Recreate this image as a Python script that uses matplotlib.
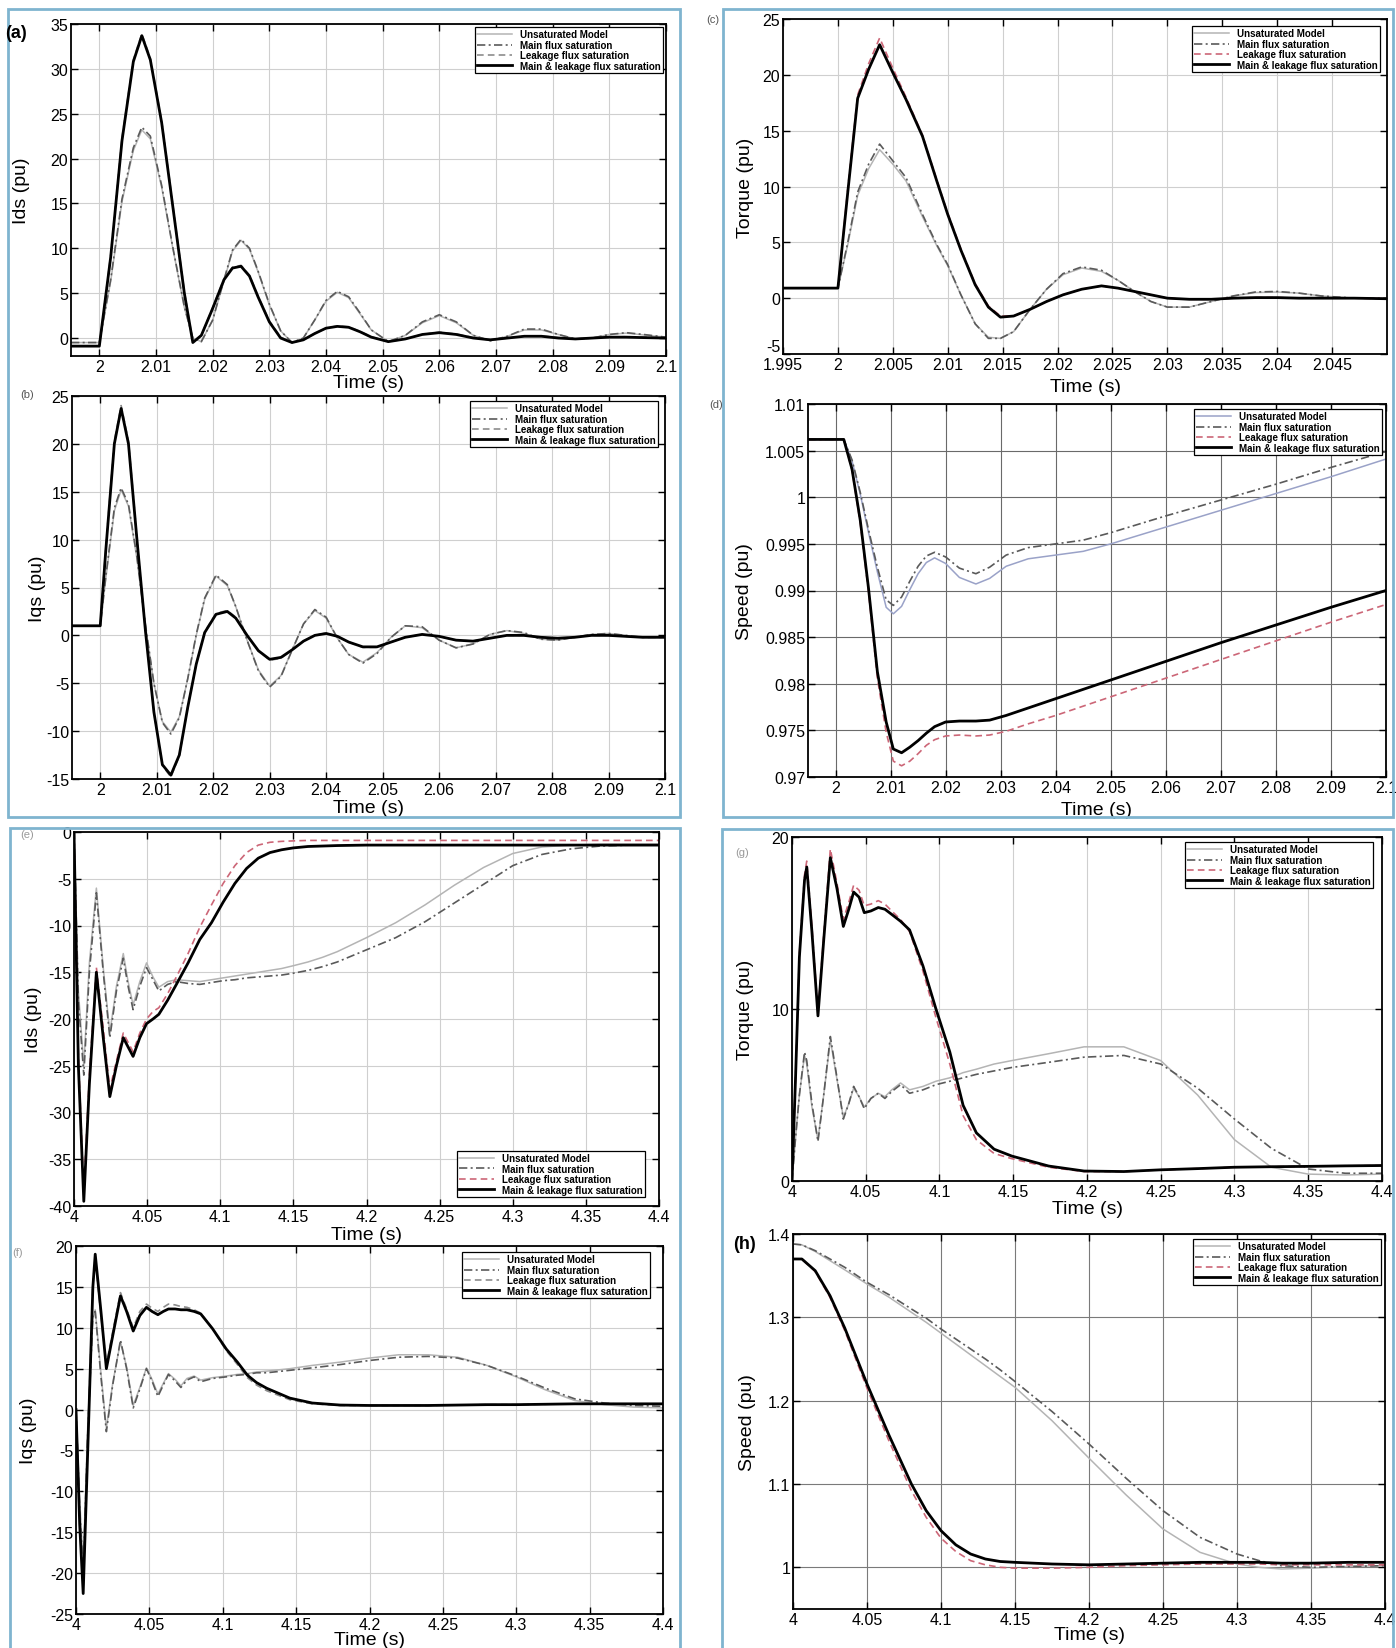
import numpy as np
import matplotlib
matplotlib.use("Agg")
import matplotlib.pyplot as plt
from matplotlib.patches import Rectangle

plt.rcParams['font.family'] = ['Liberation Sans', 'DejaVu Sans']

# ---------------- data ----------------
series_names = ["Unsaturated Model", "Main flux saturation",
                "Leakage flux saturation", "Main & leakage flux saturation"]

# (a) Ids, fault at t = 2 s
t_a = [1.995, 2.0, 2.002, 2.004, 2.006, 2.0075, 2.009, 2.011, 2.013, 2.015,
       2.0165, 2.018, 2.020, 2.022, 2.0235, 2.025, 2.0265, 2.028, 2.030, 2.032,
       2.034, 2.036, 2.038, 2.040, 2.042, 2.044, 2.046, 2.048, 2.051, 2.054,
       2.057, 2.060, 2.063, 2.066, 2.069, 2.072, 2.075, 2.078, 2.081, 2.084,
       2.087, 2.090, 2.093, 2.096, 2.1]
unsat_a = [-0.5, -0.5, 6.3, 15.2, 20.9, 23.2, 22.2, 16.8, 9.9, 3.4,
           0.0, -0.4, 2.0, 6.4, 9.7, 10.9, 9.9, 7.4, 3.7, 0.8,
           -0.5, 0.0, 2.0, 4.1, 5.1, 4.5, 2.7, 0.9, -0.4, 0.3,
           1.7, 2.5, 1.7, 0.3, -0.3, 0.2, 0.9, 0.9, 0.4, -0.1,
           0.0, 0.4, 0.55, 0.35, 0.1]
main_a = [-0.5, -0.5, 6.5, 15.5, 21.2, 23.5, 22.5, 17, 10, 3.5,
          0.0, -0.4, 2.0, 6.5, 9.8, 11.0, 10.0, 7.5, 3.8, 0.8,
          -0.5, 0.0, 2.0, 4.2, 5.2, 4.6, 2.8, 0.9, -0.4, 0.3,
          1.8, 2.6, 1.8, 0.3, -0.3, 0.2, 1.0, 1.0, 0.4, -0.1,
          0.0, 0.4, 0.6, 0.4, 0.1]
leak_a = [-0.9, -0.9, 9.2, 22.3, 31.0, 33.9, 31.2, 24.2, 14.7, 5.2,
          -0.4, 0.3, 3.4, 6.6, 7.9, 8.1, 7.0, 4.7, 1.9, 0.1,
          -0.5, -0.2, 0.5, 1.1, 1.35, 1.25, 0.75, 0.15, -0.4, -0.1,
          0.4, 0.65, 0.45, 0.05, -0.2, 0.0, 0.2, 0.25, 0.05, -0.1,
          0.0, 0.1, 0.15, 0.1, 0.05]
both_a = [-0.9, -0.9, 9, 22, 30.8, 33.7, 31, 24, 14.5, 5,
          -0.5, 0.3, 3.3, 6.5, 7.8, 8.0, 6.9, 4.6, 1.8, 0.0,
          -0.5, -0.2, 0.5, 1.1, 1.3, 1.2, 0.7, 0.1, -0.4, -0.1,
          0.4, 0.6, 0.4, 0.0, -0.2, 0.0, 0.2, 0.2, 0.0, -0.1,
          0.0, 0.1, 0.1, 0.05, 0.0]

# (b) Iqs, fault at t = 2 s
t_b = [1.995, 2.0, 2.001, 2.0025, 2.0037, 2.005, 2.0065, 2.008, 2.0095, 2.011,
       2.0125, 2.014, 2.0155, 2.017, 2.0185, 2.0205, 2.0225, 2.024, 2.026, 2.028,
       2.030, 2.032, 2.034, 2.036, 2.038, 2.040, 2.042, 2.044, 2.0465, 2.049,
       2.0515, 2.054, 2.057, 2.060, 2.063, 2.066, 2.069, 2.072, 2.075, 2.078,
       2.081, 2.084, 2.087, 2.090, 2.093, 2.096, 2.1]
unsat_b = [1.0, 1.0, 6, 13, 15.2, 13.5, 8, 1.0, -5, -9,
           -10.1, -8.5, -4.5, 0.0, 3.8, 6.2, 5.2, 3.0, -0.5, -3.6,
           -5.3, -4.2, -1.5, 1.2, 2.6, 1.8, -0.3, -2.0, -2.8, -1.8,
           -0.2, 1.0, 0.8, -0.5, -1.3, -0.9, 0.1, 0.5, 0.2, -0.4,
           -0.5, -0.2, 0.1, 0.2, 0.0, -0.2, -0.2]
main_b = [1.0, 1.0, 6.2, 13.3, 15.4, 13.7, 8.2, 1.1, -5.0, -9.1,
          -10.3, -8.6, -4.5, 0.1, 3.9, 6.3, 5.3, 3.0, -0.5, -3.7,
          -5.4, -4.3, -1.5, 1.2, 2.7, 1.9, -0.3, -2.0, -2.9, -1.9,
          -0.2, 1.0, 0.9, -0.5, -1.3, -0.9, 0.1, 0.5, 0.3, -0.4,
          -0.5, -0.2, 0.1, 0.2, 0.0, -0.2, -0.2]
leak_b = [1.0, 1.0, 9.3, 20.3, 24.0, 20.3, 10.2, 0.6, -8.0, -13.6,
          -14.8, -12.6, -7.5, -3.0, 0.4, 2.3, 2.6, 1.9, 0.0, -1.6,
          -2.6, -2.4, -1.5, -0.6, 0.0, 0.25, -0.1, -0.7, -1.25, -1.25,
          -0.7, -0.2, 0.1, -0.1, -0.5, -0.6, -0.3, 0.0, 0.0, -0.2,
          -0.3, -0.2, 0.0, 0.0, -0.1, -0.2, -0.2]
both_b = [1.0, 1.0, 9, 20, 23.7, 20, 10, 0.5, -8, -13.5,
          -14.6, -12.5, -7.5, -3.0, 0.3, 2.2, 2.5, 1.8, 0.0, -1.6,
          -2.5, -2.3, -1.5, -0.6, 0.0, 0.2, -0.1, -0.7, -1.2, -1.2,
          -0.7, -0.2, 0.1, -0.1, -0.5, -0.6, -0.3, 0.0, 0.0, -0.2,
          -0.3, -0.2, 0.0, 0.0, -0.1, -0.2, -0.2]

# (c) Torque, fault at t = 2 s
t_c = [1.995, 2.0, 2.0009, 2.0018, 2.0028, 2.0038, 2.005, 2.0062, 2.0077, 2.009,
       2.010, 2.0112, 2.0125, 2.0137, 2.0148, 2.016, 2.0175, 2.019, 2.0205, 2.0222,
       2.024, 2.0255, 2.027, 2.0285, 2.030, 2.032, 2.034, 2.036, 2.038, 2.040,
       2.042, 2.044, 2.047, 2.05]
unsat_c = [0.9, 0.9, 4.8, 9.2, 11.6, 13.3, 12.0, 10.5, 7.3, 4.7,
           2.9, 0.3, -2.3, -3.5, -3.6, -3.0, -1.0, 0.8, 2.1, 2.7,
           2.4, 1.6, 0.6, -0.3, -0.8, -0.8, -0.3, 0.2, 0.5, 0.55,
           0.45, 0.2, 0.0, 0.0]
main_c = [0.9, 0.9, 5.0, 9.5, 12.0, 13.8, 12.3, 10.8, 7.5, 4.8,
          3.0, 0.3, -2.3, -3.6, -3.6, -3.0, -1.0, 0.8, 2.2, 2.8,
          2.5, 1.6, 0.6, -0.3, -0.8, -0.8, -0.3, 0.2, 0.55, 0.6,
          0.45, 0.2, 0.0, 0.0]
leak_c = [0.9, 0.9, 9.8, 18.2, 21.0, 23.3, 20.6, 18.0, 14.6, 10.6,
          7.6, 4.4, 1.3, -0.7, -1.6, -1.6, -1.0, -0.3, 0.3, 0.8,
          1.1, 0.9, 0.6, 0.3, 0.0, -0.1, -0.1, 0.0, 0.05, 0.05,
          0.0, 0.0, 0.0, -0.05]
both_c = [0.9, 0.9, 9.5, 17.9, 20.5, 22.7, 20.2, 17.8, 14.5, 10.5,
          7.5, 4.3, 1.2, -0.8, -1.7, -1.6, -1.0, -0.3, 0.3, 0.8,
          1.1, 0.9, 0.6, 0.3, 0.0, -0.1, -0.1, 0.0, 0.05, 0.05,
          0.0, 0.0, 0.0, -0.05]

# (d) Speed, fault at t = 2 s
t_d = [1.995, 2.0, 2.0015, 2.003, 2.0045, 2.006, 2.0076, 2.0092, 2.0105, 2.012,
       2.0135, 2.015, 2.0165, 2.018, 2.020, 2.0225, 2.0255, 2.028, 2.031, 2.035,
       2.040, 2.045, 2.05, 2.06, 2.07, 2.08, 2.09, 2.1]
unsat_d = [1.0062, 1.0062, 1.0062, 1.0039, 1.0003, 0.9962, 0.9920, 0.9882, 0.9875, 0.9883,
           0.9901, 0.9918, 0.9930, 0.9935, 0.9929, 0.9914, 0.9907, 0.9913, 0.9926, 0.9934,
           0.9938, 0.9942, 0.9950, 0.9968, 0.9986, 1.0004, 1.0022, 1.0041]
main_d = [1.0062, 1.0062, 1.0062, 1.0040, 1.0005, 0.9965, 0.9925, 0.9890, 0.9884, 0.9893,
          0.9910, 0.9926, 0.9937, 0.9941, 0.9936, 0.9924, 0.9918, 0.9925, 0.9938, 0.9946,
          0.9950, 0.9954, 0.9962, 0.9980, 0.9997, 1.0014, 1.0032, 1.0049]
leak_d = [1.0062, 1.0062, 1.0062, 1.0029, 0.9972, 0.9898, 0.9806, 0.9748, 0.9717, 0.9712,
          0.9717, 0.9725, 0.9734, 0.9740, 0.9744, 0.9745, 0.9744, 0.9745, 0.9749, 0.9757,
          0.9766, 0.9776, 0.9786, 0.9806, 0.9826, 0.9846, 0.9866, 0.9885]
both_d = [1.0062, 1.0062, 1.0062, 1.0030, 0.9975, 0.9902, 0.9813, 0.9759, 0.9730, 0.9726,
          0.9732, 0.9739, 0.9747, 0.9754, 0.9759, 0.9760, 0.9760, 0.9761, 0.9766, 0.9774,
          0.9784, 0.9794, 0.9804, 0.9824, 0.9844, 0.9863, 0.9882, 0.9900]

# (e) Ids, fault at t = 4 s
t_e = [4.0, 4.003, 4.0067, 4.0105, 4.0153, 4.02, 4.0245, 4.029, 4.0337, 4.037,
       4.0404, 4.045, 4.0496, 4.054, 4.058, 4.064, 4.07, 4.078, 4.086, 4.094,
       4.102, 4.11, 4.118, 4.126, 4.134, 4.142, 4.15, 4.16, 4.17, 4.18,
       4.2, 4.22, 4.24, 4.26, 4.28, 4.3, 4.32, 4.34, 4.36, 4.38, 4.4]
unsat_e = [0, -17, -25, -14, -6, -14.5, -21.5, -16.5, -13, -16,
           -18.5, -16, -14, -15.5, -16.6, -16, -15.8, -15.9, -16, -15.8,
           -15.6, -15.4, -15.2, -15, -14.8, -14.6, -14.3, -13.9, -13.4, -12.8,
           -11.3, -9.7, -7.8, -5.7, -3.8, -2.3, -1.6, -1.4, -1.3, -1.3, -1.3]
main_e = [0, -18, -26, -15, -6.5, -15, -22, -17, -13.5, -16.5,
          -19, -16.5, -14.5, -15.8, -17, -16.3, -16, -16.2, -16.3, -16.1,
          -15.9, -15.8, -15.6, -15.5, -15.4, -15.3, -15.1, -14.8, -14.4, -13.9,
          -12.6, -11.3, -9.6, -7.6, -5.6, -3.6, -2.4, -1.8, -1.5, -1.4, -1.4]
leak_e = [0, -24, -38.5, -26, -14.5, -21, -27.5, -24.5, -21.5, -22.5,
          -23.5, -21.5, -20, -19.2, -18.8, -17.3, -15.5, -13, -10.2, -7.8,
          -5.5, -3.6, -2.2, -1.4, -1.1, -1.0, -0.95, -0.9, -0.9, -0.9,
          -0.9, -0.9, -0.9, -0.9, -0.9, -0.9, -0.9, -0.9, -0.9, -0.9, -0.9]
both_e = [0, -25, -39.5, -27, -15, -22, -28.3, -25, -22, -23,
          -24, -22, -20.5, -20, -19.5, -18, -16.3, -14, -11.5, -9.7,
          -7.5, -5.5, -3.9, -2.8, -2.2, -1.9, -1.7, -1.55, -1.5, -1.45,
          -1.4, -1.4, -1.4, -1.4, -1.4, -1.4, -1.4, -1.4, -1.4, -1.4, -1.4]

# (f) Iqs, fault at t = 4 s
t_f = [4.0, 4.0025, 4.0049, 4.008, 4.0115, 4.0131, 4.017, 4.0207, 4.025, 4.0303,
       4.0345, 4.039, 4.0435, 4.048, 4.0518, 4.0558, 4.0595, 4.063, 4.0675, 4.0715,
       4.0756, 4.0805, 4.085, 4.093, 4.1024, 4.11, 4.1168, 4.123, 4.13, 4.1457,
       4.161, 4.18, 4.2, 4.22, 4.24, 4.26, 4.28, 4.3, 4.32, 4.34,
       4.36, 4.38, 4.4]
unsat_f = [0, -11, -19, -2, 11, 12.2, 4.5, -2.3, 3.2, 8.3,
           5.2, 0.5, 2.7, 5.1, 3.7, 1.9, 3.2, 4.4, 3.7, 2.9,
           3.8, 4.1, 3.6, 3.9, 4.1, 4.3, 4.4, 4.6, 4.7, 5.0,
           5.4, 5.8, 6.3, 6.7, 6.7, 6.4, 5.4, 4.0, 2.4, 1.1,
           0.6, 0.3, 0.2]
main_f = [0, -12, -20, -3, 11.5, 12, 4, -2.7, 3, 8.5,
          5, 0.2, 2.5, 5.0, 3.5, 1.6, 3.0, 4.3, 3.5, 2.7,
          3.6, 4.0, 3.4, 3.8, 4.0, 4.2, 4.3, 4.5, 4.5, 4.8,
          5.1, 5.5, 6.0, 6.4, 6.5, 6.3, 5.4, 4.1, 2.6, 1.3,
          0.8, 0.5, 0.4]
leak_f = [0, -13, -21.5, -4, 15.5, 18.5, 11.5, 5.5, 9.5, 14.3,
          12.3, 10.0, 12.0, 12.9, 12.4, 12.0, 12.5, 12.9, 12.8, 12.6,
          12.5, 12.2, 11.8, 9.9, 7.2, 5.5, 3.9, 3.0, 2.3, 1.2,
          0.7, 0.5, 0.5, 0.5, 0.5, 0.55, 0.6, 0.6, 0.65, 0.7,
          0.7, 0.7, 0.7]
both_f = [0, -14, -22.5, -5, 15, 19, 12, 5, 9, 13.9,
          12, 9.6, 11.5, 12.5, 12.0, 11.6, 12.0, 12.3, 12.3, 12.2,
          12.2, 12.0, 11.7, 9.9, 7.4, 5.8, 4.2, 3.3, 2.6, 1.4,
          0.8, 0.55, 0.5, 0.5, 0.5, 0.55, 0.6, 0.6, 0.65, 0.7,
          0.7, 0.7, 0.7]

# (g) Torque, fault at t = 4 s
t_g = [4.0, 4.0024, 4.005, 4.0085, 4.01, 4.0135, 4.0176, 4.0215, 4.026, 4.0305,
       4.0348, 4.0385, 4.0418, 4.0455, 4.049, 4.0535, 4.0585, 4.063, 4.0676, 4.0736,
       4.0797, 4.0888, 4.0976, 4.107, 4.116, 4.125, 4.137, 4.149, 4.174, 4.198,
       4.225, 4.25, 4.275, 4.3, 4.325, 4.35, 4.375, 4.4]
unsat_g = [0, 2.5, 5.0, 7.3, 6.8, 4.3, 2.4, 5.0, 8.2, 5.9,
           3.7, 4.5, 5.4, 4.9, 4.3, 4.8, 5.1, 4.9, 5.3, 5.7,
           5.3, 5.5, 5.8, 6.0, 6.3, 6.5, 6.8, 7.0, 7.4, 7.8,
           7.8, 7.0, 5.0, 2.4, 0.8, 0.4, 0.35, 0.4]
main_g = [0, 2.5, 5.0, 7.5, 7.0, 4.5, 2.3, 5.0, 8.4, 6.0,
          3.6, 4.5, 5.5, 4.9, 4.2, 4.8, 5.1, 4.8, 5.2, 5.6,
          5.1, 5.3, 5.6, 5.8, 6.0, 6.2, 6.4, 6.6, 6.9, 7.2,
          7.3, 6.8, 5.4, 3.6, 1.9, 0.7, 0.45, 0.45]
leak_g = [0, 6, 13.2, 17.8, 18.6, 14.8, 9.8, 14.3, 19.3, 17.3,
          15.2, 16.2, 17.2, 16.9, 16.0, 16.1, 16.3, 16.1, 15.7, 15.2,
          14.5, 12.2, 9.5, 6.8, 3.8, 2.4, 1.6, 1.3, 0.8, 0.55,
          0.55, 0.65, 0.72, 0.8, 0.83, 0.85, 0.88, 0.9]
both_g = [0, 6, 13, 17.5, 18.25, 14.5, 9.6, 14, 18.8, 17,
          14.8, 15.8, 16.8, 16.5, 15.6, 15.7, 15.9, 15.8, 15.5, 15.1,
          14.6, 12.5, 10, 7.5, 4.4, 2.8, 1.85, 1.45, 0.87, 0.58,
          0.55, 0.65, 0.72, 0.8, 0.83, 0.85, 0.88, 0.9]

# (h) Speed, fault at t = 4 s
t_h = [4.0, 4.006, 4.015, 4.025, 4.035, 4.05, 4.065, 4.08, 4.09, 4.1,
       4.11, 4.12, 4.13, 4.14, 4.15, 4.175, 4.2, 4.225, 4.25, 4.275,
       4.3, 4.315, 4.33, 4.35, 4.375, 4.4]
unsat_h = [1.388, 1.387, 1.379, 1.368, 1.357, 1.340, 1.324, 1.306, 1.294, 1.281,
           1.268, 1.255, 1.242, 1.229, 1.216, 1.176, 1.131, 1.087, 1.046, 1.018,
           1.004, 1.000, 0.998, 0.999, 1.001, 1.002]
main_h = [1.388, 1.387, 1.380, 1.370, 1.360, 1.342, 1.327, 1.310, 1.299, 1.286,
          1.274, 1.262, 1.250, 1.237, 1.223, 1.187, 1.148, 1.107, 1.068, 1.036,
          1.016, 1.008, 1.002, 1.000, 1.001, 1.002]
leak_h = [1.370, 1.370, 1.355, 1.324, 1.284, 1.215, 1.151, 1.092, 1.060, 1.035,
          1.019, 1.008, 1.003, 1.000, 0.999, 0.999, 1.000, 1.002, 1.003, 1.004,
          1.004, 1.004, 1.003, 1.003, 1.003, 1.003]
both_h = [1.370, 1.370, 1.356, 1.326, 1.287, 1.220, 1.158, 1.100, 1.068, 1.044,
          1.027, 1.016, 1.010, 1.007, 1.006, 1.004, 1.003, 1.004, 1.005, 1.006,
          1.006, 1.006, 1.005, 1.005, 1.006, 1.006]

# ---------------- layout (pixels of the 1396x1649 page) ----------------
W, H = 1396, 1649
fig = plt.figure(figsize=(W / 100, H / 100), dpi=100)
fig.patch.set_facecolor('white')

# light blue frames around each pair of plots
for l, t, r, b in [(8, 10, 680, 818), (723, 10, 1393, 818),
                   (10, 829, 680, 1662), (722, 830, 1393, 1662)]:
    fig.add_artist(Rectangle((l / W, 1 - b / H), (r - l) / W, (b - t) / H,
                             transform=fig.transFigure, fill=False,
                             ec='#7fb4cf', lw=2))


def fmt(v):
    return "%g" % round(v, 4)


def panel(pos, t, ys, xlim, ylim, xticks, yticks, ylabel, xlab_y, ylab_x,
          leg_xy, leg_loc='upper right', leak_col='#8c8c8c',
          grid_col='#cfcfcf', unsat_col='#b4b4b4'):
    l, tp, r, b = pos
    ax = fig.add_axes([l / W, 1 - b / H, (r - l) / W, (b - tp) / H])
    unsat, main, leak, both = ys
    ax.plot(t, unsat, color=unsat_col, lw=1.1, label=series_names[0])
    ax.plot(t, main, color='#5a5a5a', lw=1.2, ls=(0, (5, 2, 1.2, 2)),
            label=series_names[1])
    ax.plot(t, leak, color=leak_col, lw=1.2, ls=(0, (4, 2.5)),
            label=series_names[2])
    ax.plot(t, both, color='black', lw=2.0, label=series_names[3])
    ax.set_xlim(xlim)
    ax.set_ylim(ylim)
    ax.set_xticks(xticks)
    ax.set_xticklabels([fmt(v) for v in xticks])
    ax.set_yticks(yticks)
    ax.set_yticklabels([fmt(v) for v in yticks])
    ax.tick_params(direction='in', top=True, right=True, length=5, width=1,
                   labelsize=11.5, pad=2)
    ax.grid(True, color=grid_col, lw=0.8)
    ax.set_axisbelow(True)
    for s in ax.spines.values():
        s.set_linewidth(1.3)
    ax.set_xlabel('Time (s)', fontsize=14)
    ax.set_ylabel(ylabel, fontsize=14)
    ax.xaxis.set_label_coords(0.5, (b - xlab_y) / (b - tp))
    ax.xaxis.label.set_va('center')
    ax.yaxis.set_label_coords((ylab_x - l) / (r - l), 0.5)
    ax.yaxis.label.set_va('center')
    lx, ly = leg_xy
    leg = ax.legend(loc=leg_loc,
                    bbox_to_anchor=((lx - l) / (r - l), (b - ly) / (b - tp)),
                    prop={'size': 7, 'weight': 'bold'}, fancybox=False,
                    edgecolor='black', framealpha=1, borderpad=0.25,
                    labelspacing=0.05, handlelength=3.6, handletextpad=0.8,
                    borderaxespad=0)
    leg.get_frame().set_linewidth(0.9)
    return ax


x2 = list(np.round(np.arange(2.0, 2.1001, 0.01), 3))
x2c = list(np.round(np.arange(1.995, 2.0451, 0.005), 3))
x4 = list(np.round(np.arange(4.0, 4.4001, 0.05), 3))
red = '#cc6677'

panel((71, 25, 666, 357), t_a, (unsat_a, main_a, leak_a, both_a),
      (1.995, 2.1), (-2, 35), x2, list(range(0, 36, 5)), 'Ids (pu)',
      384, 22, (663, 28))
panel((72, 397, 665, 780), t_b, (unsat_b, main_b, leak_b, both_b),
      (1.995, 2.1), (-15, 25), x2, list(range(-15, 26, 5)), 'Iqs (pu)',
      809, 38, (658, 402))
ax_c = panel((783, 20, 1387, 355), t_c, (unsat_c, main_c, leak_c, both_c),
             (1.995, 2.05), (-5, 25), x2c, list(range(-5, 26, 5)),
             'Torque (pu)', 387, 745, (1380, 27), leak_col=red)
# the lowest torque label sits just above the corner, as in the scan
ax_c.get_yticklabels()[0].set_va('bottom')
panel((808, 405, 1386, 778), t_d, (unsat_d, main_d, leak_d, both_d),
      (1.995, 2.1), (0.97, 1.01), x2,
      list(np.round(np.arange(0.97, 1.0101, 0.005), 3)), 'Speed (pu)',
      811, 745, (1382, 410), leak_col=red, grid_col='#6a6a6a',
      unsat_col='#9aa2c8')
panel((74, 833, 659, 1207), t_e, (unsat_e, main_e, leak_e, both_e),
      (4.0, 4.4), (-40, 0), x4, list(range(-40, 1, 5)), 'Ids (pu)',
      1236, 33, (645, 1198), leg_loc='lower right', leak_col=red)
panel((76, 1247, 663, 1615), t_f, (unsat_f, main_f, leak_f, both_f),
      (4.0, 4.4), (-25, 20), x4, list(range(-25, 21, 5)), 'Iqs (pu)',
      1641, 29, (650, 1253))
panel((792, 838, 1382, 1182), t_g, (unsat_g, main_g, leak_g, both_g),
      (4.0, 4.4), (0, 20), x4, [0, 10, 20], 'Torque (pu)',
      1210, 745, (1373, 843), leak_col=red)
panel((793, 1235, 1385, 1610), t_h, (unsat_h, main_h, leak_h, both_h),
      (4.0, 4.4), (0.95, 1.4), x4, [1.0, 1.1, 1.2, 1.3, 1.4], 'Speed (pu)',
      1636, 747, (1381, 1240), leak_col=red, grid_col='#7a7a7a')

# panel letters
letters = [('(a)', 16, 33, 13, 'bold', 'black'),
           ('(b)', 27, 395, 8, 'normal', '#555555'),
           ('(c)', 713, 20, 8, 'normal', '#555555'),
           ('(d)', 716, 405, 8, 'normal', '#555555'),
           ('(e)', 27, 835, 8, 'normal', '#999999'),
           ('(f)', 18, 1253, 8, 'normal', '#999999'),
           ('(g)', 742, 853, 8, 'normal', '#999999'),
           ('(h)', 745, 1245, 13, 'bold', 'black')]
for txt, x, y, size, weight, col in letters:
    fig.text(x / W, 1 - y / H, txt, ha='center', va='center', fontsize=size,
             fontweight=weight, color=col)

fig.savefig('out.png', dpi=100)
